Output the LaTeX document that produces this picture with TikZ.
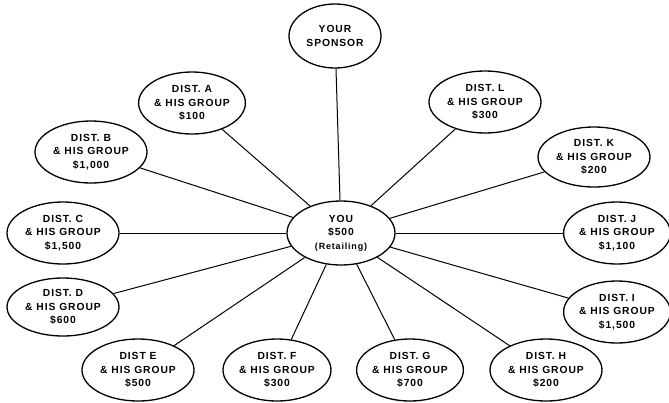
\documentclass[tikz,border=0pt]{standalone}
\usepackage{fontspec}
\newfontfamily\distfont[LetterSpace=9]{Liberation Sans}
\usepackage{tikz}
\usetikzlibrary{shapes, positioning}

\begin{document}
\begin{tikzpicture}[x=1pt, y=-1pt,
    dist/.style={ellipse, draw, line width=1.3pt, minimum width=112pt, minimum height=62pt,
                 inner sep=0pt, align=center, font=\distfont\bfseries\fontsize{10.3}{13.5}\selectfont},
    link/.style={line width=1pt}]
    \useasboundingbox (0,0) rectangle (669,402);

    % Sponsor and centre
    \node[dist, minimum width=92pt, minimum height=64pt] (sponsor) at (335,36) {YOUR\\SPONSOR};
    \node[dist, minimum width=108pt, minimum height=64pt] (you) at (341,233)
        {YOU\\\$500\\{\fontsize{9}{13.5}\selectfont(Retailing)}};

    % Distributors round the centre
    \node[dist, minimum width=94pt] (a) at (192,103) {DIST. A\\\& HIS GROUP\\\$100};
    \node[dist] (b) at (91,152) {DIST. B\\\& HIS GROUP\\\$1,000};
    \node[dist] (c) at (63,233) {DIST. C\\\& HIS GROUP\\\$1,500};
    \node[dist, minimum height=58pt] (d) at (63,307) {DIST. D\\\& HIS GROUP\\\$600};
    \node[dist] (e) at (138,370) {DIST E\\\& HIS GROUP\\\$500};
    \node[dist, minimum width=108pt] (f) at (277,370) {DIST. F\\\& HIS GROUP\\\$300};
    \node[dist, minimum width=104pt] (g) at (410,370) {DIST. G\\\& HIS GROUP\\\$700};
    \node[dist] (h) at (546,370) {DIST. H\\\& HIS GROUP\\\$200};
    \node[dist, minimum width=106pt] (i) at (617,312) {DIST. I\\\& HIS GROUP\\\$1,500};
    \node[dist, minimum width=106pt] (j) at (617,233) {DIST. J\\\& HIS GROUP\\\$1,100};
    \node[dist, minimum height=60pt] (k) at (594,157) {DIST. K\\\& HIS GROUP\\\$200};
    \node[dist] (l) at (485,102) {DIST. L\\\& HIS GROUP\\\$300};

    % Spokes
    \foreach \d in {sponsor,a,b,c,d,e,f,g,h,i,j,k,l}
        \draw[link] (\d) -- (you);
\end{tikzpicture}
\end{document}
